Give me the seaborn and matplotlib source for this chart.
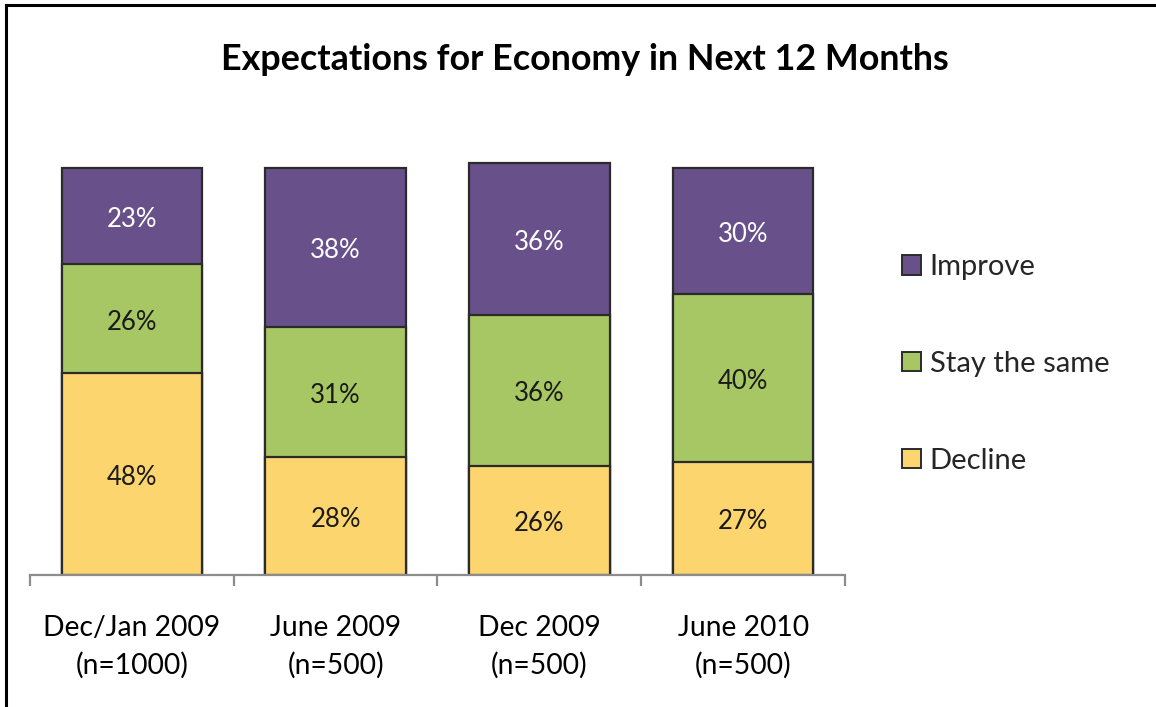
import matplotlib
matplotlib.use("Agg")
import matplotlib.pyplot as plt
from matplotlib.patches import Patch
from matplotlib.lines import Line2D
import numpy as np
import pandas as pd
import seaborn as sns

# Survey waves and response shares (%)
periods = ["Dec/Jan 2009\n(n=1000)", "June 2009\n(n=500)", "Dec 2009\n(n=500)", "June 2010\n(n=500)"]
decline = [48, 28, 26, 27]
stay_same = [26, 31, 36, 40]
improve = [23, 38, 36, 30]
series_names = ["Improve", "Stay the same", "Decline"]

purple = "#68508A"
green = "#A7C764"
yellow = "#FDD56F"
edge = "#2B2B2B"
axis_grey = "#8C8C8C"

sns.set_theme(style="white")
plt.rcParams["font.family"] = ["Lato", "DejaVu Sans"]

W, H = 1156, 707
fig = plt.figure(figsize=(W / 100, H / 100), dpi=100)
fig.patch.set_facecolor("white")
ax = fig.add_axes([30 / W, (H - 575) / H, 815 / W, 420 / H])

df = pd.DataFrame({"period": periods, "decline": decline,
                   "stay": stay_same, "improve": improve})
df["lower_two"] = df["decline"] + df["stay"]
df["total"] = df["lower_two"] + df["improve"]

# Stacked bars drawn as layered cumulative totals
for col, color in [("total", purple), ("lower_two", green), ("decline", yellow)]:
    sns.barplot(data=df, x="period", y=col, color=color, saturation=1,
                width=0.69, edgecolor=edge, linewidth=1.6, ax=ax)

# Segment value labels
def seg_label(x, y, value, color):
    ax.annotate(f"{value}%", (x, y), xytext=(0, -2.5), textcoords="offset points",
                ha="center", va="center", fontsize=18.5, color=color)

for i in range(len(periods)):
    d, s, m = decline[i], stay_same[i], improve[i]
    seg_label(i, d / 2, d, "#1a1a1a")
    seg_label(i, d + s / 2, s, "#1a1a1a")
    seg_label(i, d + s + m / 2, m, "white")

ax.set_xlim(-0.5, len(periods) - 0.5)
ax.set_ylim(0, 100)
ax.set_xlabel("")
ax.set_ylabel("")
ax.set_yticks([])
for side in ["left", "top", "right"]:
    ax.spines[side].set_visible(False)
ax.spines["bottom"].set_color(axis_grey)
ax.spines["bottom"].set_linewidth(1.6)

ax.set_xticks(np.arange(-0.5, len(periods), 1), minor=True)
ax.tick_params(axis="x", which="minor", bottom=True, length=8, width=1.6,
               color=axis_grey, direction="out")
ax.tick_params(axis="x", which="major", bottom=False, length=0, pad=29,
               labelsize=20.3, labelcolor="black")
for lbl in ax.get_xticklabels():
    lbl.set_linespacing(1.5)
ax.set_facecolor("white")

# Legend
handles = [Patch(facecolor=c, edgecolor=edge, linewidth=1.4, label=n)
           for c, n in zip([purple, green, yellow], series_names)]
fig.legend(handles=handles, loc="center left",
           bbox_to_anchor=(902 / W, (H - 364) / H), bbox_transform=fig.transFigure,
           frameon=False, fontsize=21, handlelength=0.65, handleheight=0.65,
           handletextpad=0.3, labelspacing=2.43, borderpad=0, borderaxespad=0)

# Title
fig.text(585 / W, (H - 60) / H, "Expectations for Economy in Next 12 Months",
         ha="center", va="center", fontsize=25.8, fontweight="bold", color="black")

# Outer frame (left and top rules)
fig.add_artist(Line2D([6 / W, 6 / W], [0, (H - 5) / H], transform=fig.transFigure,
                      color="black", linewidth=2.2, solid_capstyle="projecting"))
fig.add_artist(Line2D([6 / W, 1], [(H - 5) / H, (H - 5) / H], transform=fig.transFigure,
                      color="black", linewidth=2.2, solid_capstyle="projecting"))

fig.savefig("out.png", dpi=100, facecolor="white")
